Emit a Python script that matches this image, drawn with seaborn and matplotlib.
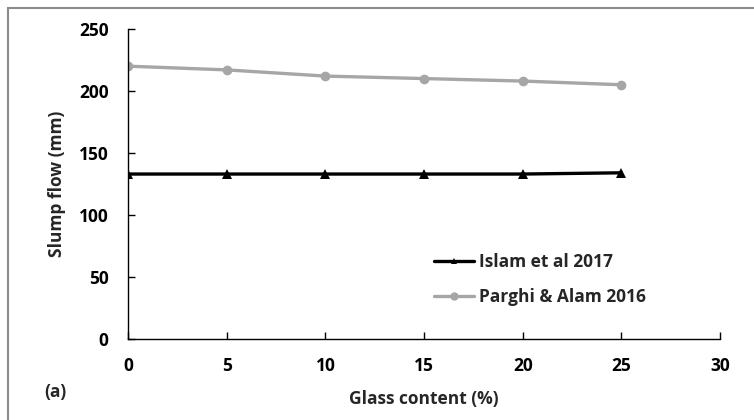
import matplotlib
matplotlib.use("Agg")
import matplotlib.pyplot as plt
import seaborn as sns
import pandas as pd
from matplotlib.lines import Line2D

sns.set_theme(style="white")
plt.rcParams['font.family'] = ['Open Sans', 'DejaVu Sans']

glass = [0, 5, 10, 15, 20, 25]
islam = [133, 133, 133, 133, 133, 134]
parghi = [220, 217, 212, 210, 208, 205]
series_names = ["Islam et al 2017", "Parghi & Alam 2016"]
x_ticks = [0, 5, 10, 15, 20, 25, 30]
y_ticks = [0, 50, 100, 150, 200, 250]

df = pd.DataFrame({
    "glass": glass * 2,
    "flow": islam + parghi,
    "series": [series_names[0]] * len(glass) + [series_names[1]] * len(glass),
})

fig = plt.figure(figsize=(7.54, 4.2), dpi=100)
ax = fig.add_axes([0.170, 0.193, 0.785, 0.738])

sns.lineplot(data=df, x="glass", y="flow", hue="series", style="series",
             palette={series_names[0]: "#000000", series_names[1]: "#a6a6a6"},
             markers={series_names[0]: "^", series_names[1]: "o"},
             dashes=False, linewidth=2.4, markersize=7, markeredgewidth=0,
             ax=ax, legend=False)

ax.set_xlim(0, 30)
ax.set_ylim(0, 250)
ax.set_xticks(x_ticks)
ax.set_yticks(y_ticks)
fs = 12.5
ax.set_xticklabels([str(t) for t in x_ticks], fontsize=fs, fontweight="bold")
ax.set_yticklabels([str(t) for t in y_ticks], fontsize=fs, fontweight="bold")
for s in ["top", "right"]:
    ax.spines[s].set_visible(False)
for s in ["left", "bottom"]:
    ax.spines[s].set_color("black")
    ax.spines[s].set_linewidth(1.0)
ax.tick_params(axis="y", direction="in", length=5, width=1, pad=14, colors="black", left=True)
ax.tick_params(axis="x", direction="in", length=5, width=1, pad=13, colors="black", bottom=True)
ax.set_xlabel("Glass content (%)", fontsize=fs, fontweight="bold", labelpad=11)
ax.set_ylabel("Slump flow (mm)", fontsize=fs, fontweight="bold", labelpad=9)

handles = [
    Line2D([], [], color="#000000", lw=2.4, marker="^", markersize=4, markeredgewidth=0),
    Line2D([], [], color="#a6a6a6", lw=2.4, marker="o", markersize=6, markeredgewidth=0),
]
leg = ax.legend(handles, series_names, loc="upper left", bbox_to_anchor=(0.505, 0.30),
                frameon=False, prop={"weight": "bold", "size": fs},
                handlelength=2.3, handletextpad=0.3, labelspacing=1.0, borderaxespad=0)

fig.text(55 / 754, 1 - 392 / 420, "(a)", fontsize=fs, fontweight="bold", ha="center", va="center")

# outer frame (top and left edges visible)
fig.add_artist(Line2D([8 / 754, 1.0], [1 - 8 / 420, 1 - 8 / 420], color="#8c8c8c", lw=1.5, transform=fig.transFigure))
fig.add_artist(Line2D([8 / 754, 8 / 754], [0.0, 1 - 8 / 420], color="#8c8c8c", lw=1.5, transform=fig.transFigure))

fig.savefig("out.png", dpi=100)
